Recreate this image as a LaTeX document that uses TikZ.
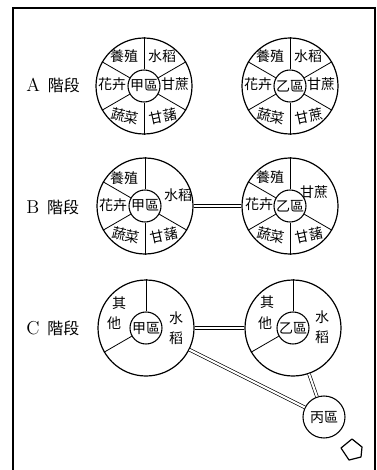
\documentclass[tikz,border=0pt]{standalone}
\usepackage{fontspec}
\newfontfamily\cjk{Noto Sans CJK TC}
\begin{document}
\begin{tikzpicture}
[x=0.75pt,y=-0.75pt,
  zoneOuter/.style={shape=circle,draw,line width=0.9pt,minimum size=72pt,inner sep=0pt},%
  zoneInner/.style={shape=circle,draw,line width=0.8pt,minimum size=24pt,inner sep=0pt,font=\cjk\fontsize{10.5}{11}\selectfont},%
  zoneSmall/.style={shape=circle,draw,line width=0.8pt,minimum size=31.5pt,inner sep=0pt,font=\cjk\fontsize{10.5}{11}\selectfont},%
  cropLabel/.style={inner sep=0pt,font=\cjk\fontsize{10.5}{11}\selectfont},%
  stageLabel/.style={anchor=west,inner sep=0pt,font=\fontsize{14}{16}\selectfont},%
  sectorLine/.style={line width=0.6pt},%
  doubleLink/.style={double,double distance=1.6pt,line width=0.5pt}]
\useasboundingbox (0,0) rectangle (377,470);
%% frame
\draw[line width=1pt] (13,470) -- (13,8) -- (375,8) -- (375,470);
%% stage labels
\foreach \stage/\y in {A/85, B/207, C/328}
{
  \node (stage\stage) at (26,\y) [stageLabel] {\stage\hspace{6pt}{\cjk\fontsize{12}{14}\selectfont 階段}};
}
%% zones, outer and inner circles
\foreach \nodename/\x/\y/\zone in {Aj/144/86/甲區, Ay/290/86/乙區, Bj/145/206/甲區,
  By/290/206/乙區, Cj/146/328/甲區, Cy/293/328/乙區}
{
  \node (\nodename) at (\x,\y) [zoneOuter] {};
  \node (in\nodename) at (\x,\y) [zoneInner] {\zone};
}
\node (Cb) at (324,417) [zoneSmall] {丙區};
%% sector lines
\foreach \nodename in {Aj, Ay}
  \foreach \angle in {30,90,...,330}
  {
    \draw[sectorLine] (in\nodename.\angle) -- (\nodename.\angle);
  }
\foreach \nodename/\angle in {Bj/90, Bj/150, Bj/210, Bj/270, Bj/330,
  By/90, By/150, By/210, By/270, By/330, Cj/90, Cj/210, Cy/90, Cy/210}
{
  \draw[sectorLine] (in\nodename.\angle) -- (\nodename.\angle);
}
%% crop labels
\foreach \nodename/\dx/\dy/\rot/\crop [count=\k] in {
  Aj/-20/-30/0/養殖, Aj/18/-30/0/水稻, Aj/31/-2/0/甘蔗, Aj/19/30/12/甘藷, Aj/-19/30/-12/蔬菜, Aj/-32/-2/0/花卉,
  Ay/-20/-30/0/養殖, Ay/18/-30/0/水稻, Ay/31/-2/0/甘蔗, Ay/19/30/12/甘蔗, Ay/-19/30/-12/蔬菜, Ay/-32/-2/0/花卉,
  Bj/-21/-28/0/養殖, Bj/33/-11/0/水稻, Bj/-32/-1/0/花卉, Bj/-19/29/-12/蔬菜, Bj/19/29/12/甘藷,
  By/-20/-29/0/養殖, By/24/-14/0/甘蔗, By/-31/-2/0/花卉, By/-19/29/-12/蔬菜, By/19/29/12/甘藷,
  Cj/-27/-25/0/其, Cj/-32/-5/0/他, Cj/30/-10/0/水, Cj/30/10/0/稻,
  Cy/-26/-26/0/其, Cy/-28/-5/0/他, Cy/29/-11/0/水, Cy/29/9/0/稻}
{
  \node (crop\k) at ([shift={(\dx,\dy)}]\nodename) [cropLabel,rotate=\rot] {\crop};
}
%% links between zones
\path
  (Bj) edge[doubleLink] (By)
  (Cj) edge[doubleLink] (Cy)
  (Cj) edge[doubleLink] (Cb)
  (Cy) edge[doubleLink] (Cb);
%% pointer
\draw[line width=0.9pt,line join=round] (341,448) -- (352,439) -- (362,447) -- (361,457) -- (349,460) -- cycle;
\end{tikzpicture}
\end{document}
